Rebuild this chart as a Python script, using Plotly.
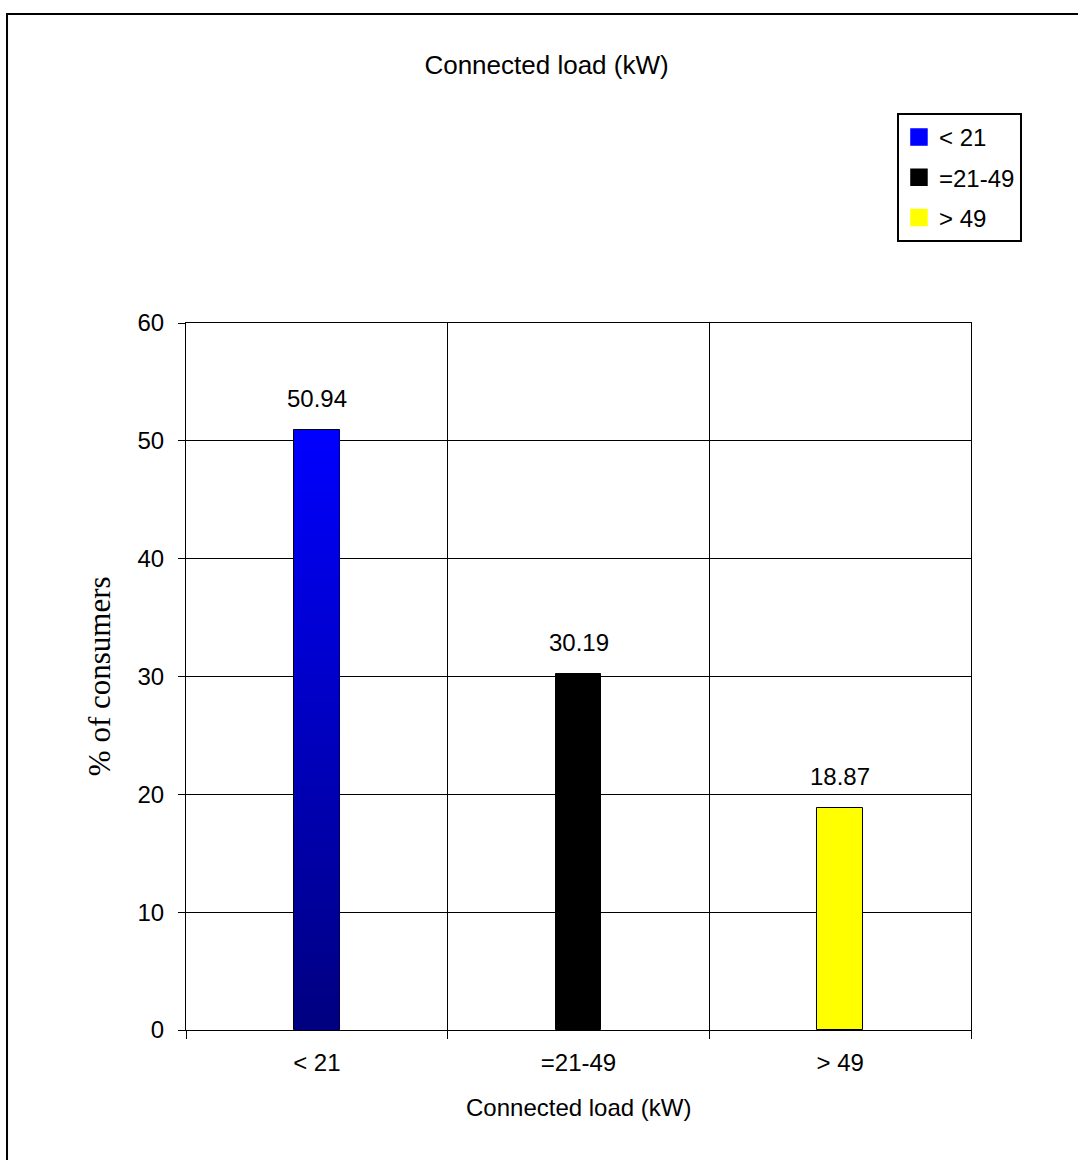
import base64
import plotly.graph_objects as go

# Share of consumers by connected load band
categories = ["< 21", "=21-49", "> 49"]
share_pct = [50.94, 30.19, 18.87]
bar_colors = ["#0000FF", "#000000", "#FFFF00"]

SANS = "Liberation Sans, Arial, sans-serif"
SERIF = "Liberation Serif, Times New Roman, serif"
BAR_W = 0.175
FS = 24

xpos = list(range(len(categories)))

fig = go.Figure()
fig.add_trace(go.Bar(
    x=xpos, y=share_pct, width=BAR_W,
    marker=dict(color=bar_colors, line=dict(color="#000000", width=1)),
    showlegend=False, hoverinfo="skip",
))

# Legend entries (square swatches)
for i, (name, col) in enumerate(zip(categories, bar_colors)):
    fig.add_trace(go.Scatter(
        x=[None], y=[None], mode="markers", name=name,
        legendgroup=f"g{i}",
        marker=dict(symbol="square", size=16, color=col,
                    line=dict(color=col, width=1.5)),
    ))

# Vertical blue-to-navy shading for the first bar
grad_svg = (
    "<svg xmlns='http://www.w3.org/2000/svg' width='10' height='100' preserveAspectRatio='none'>"
    "<defs><linearGradient id='g' x1='0' y1='0' x2='0' y2='1'>"
    "<stop offset='0' stop-color='#0000FF'/><stop offset='1' stop-color='#000080'/>"
    "</linearGradient></defs><rect width='10' height='100' fill='url(#g)'/></svg>"
)
grad_src = "data:image/svg+xml;base64," + base64.b64encode(grad_svg.encode()).decode()
fig.add_layout_image(dict(
    source=grad_src, xref="x", yref="y",
    x=xpos[0] - BAR_W / 2, y=share_pct[0], sizex=BAR_W, sizey=share_pct[0],
    xanchor="left", yanchor="top", sizing="stretch", layer="above",
))

# Value labels above the bars
for xi, v in zip(xpos, share_pct):
    fig.add_annotation(x=xi, y=v, text=f"{v:.2f}", showarrow=False,
                       yanchor="bottom", yshift=16,
                       font=dict(family=SANS, size=FS, color="#000000"))

# Axis titles
fig.add_annotation(xref="paper", yref="paper", x=0.5, y=-0.109,
                   text="Connected load (kW)", showarrow=False,
                   yanchor="middle", font=dict(family=SANS, size=FS, color="#000000"))
fig.add_annotation(xref="paper", yref="paper", x=-0.11, y=0.5,
                   text="% of consumers", showarrow=False, textangle=-90,
                   xanchor="center", yanchor="middle",
                   font=dict(family=SERIF, size=31, color="#000000"))

# Outer chart frame
fig.add_shape(type="rect", xref="paper", yref="paper",
              x0=-0.228, y0=-0.25, x1=1.2, y1=1.437,
              line=dict(color="#000000", width=2), fillcolor="rgba(0,0,0,0)")

fig.update_layout(
    width=1078, height=1160,
    margin=dict(l=186, r=107, t=323, b=130, autoexpand=False),
    paper_bgcolor="#FFFFFF", plot_bgcolor="#FFFFFF",
    font=dict(family=SANS, size=FS, color="#000000"),
    title=dict(text="Connected load (kW)", x=0.507, xref="container", xanchor="center",
               y=0.944, yref="container", yanchor="middle",
               font=dict(family=SANS, size=26, color="#000000")),
    showlegend=True,
    legend=dict(x=0.9057, y=1.297, xanchor="left", yanchor="top",
                bgcolor="#FFFFFF", bordercolor="#000000", borderwidth=2,
                font=dict(family=SANS, size=FS, color="#000000"),
                traceorder="grouped", tracegroupgap=6),
    bargap=0,
)

fig.update_xaxes(
    range=[-0.5, 2.5], tickmode="array", tickvals=xpos, ticktext=categories,
    ticks="", showgrid=False, zeroline=False,
    showline=True, mirror=True, linecolor="#000000", linewidth=1,
    ticklabelstandoff=11,
    minor=dict(tick0=0.5, dtick=1, ticks="outside", ticklen=8, tickcolor="#000000",
               tickwidth=1, showgrid=True, gridcolor="#000000", gridwidth=1),
)
fig.update_yaxes(
    range=[0, 60], tick0=0, dtick=10,
    ticks="outside", ticklen=7, tickcolor="#000000", tickwidth=1,
    showgrid=True, gridcolor="#000000", gridwidth=1, zeroline=False,
    showline=True, mirror=True, linecolor="#000000", linewidth=1,
    ticklabelstandoff=9,
)

fig.write_html("out.html")
